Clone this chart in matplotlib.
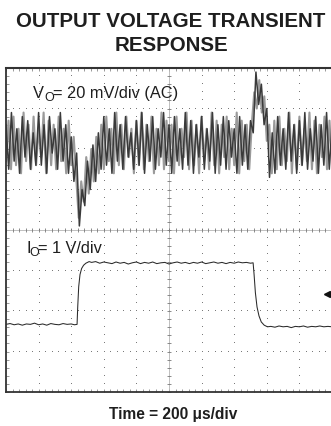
#import packages
import numpy as np
import matplotlib
matplotlib.use("Agg")
import matplotlib.pyplot as plt


#scope trace data (units = divisions, 10 x 8 grid)
#output voltage, dark persistence trace
vo_dark = [6.6, 5.5, 6.9, 5.7, 6.5, 5.4, 6.8, 5.8, 6.7, 5.5, 6.4, 5.6,
           6.9, 5.6, 6.6, 5.4, 6.8, 5.9, 6.5, 5.5, 6.9, 5.7, 6.6, 5.4,
           6.3, 5.2, 5.9, 4.1, 5.0, 4.6, 5.7, 5.0, 6.1, 5.2, 6.4, 5.5,
           6.8, 5.6, 6.5, 5.4, 6.9, 5.7, 6.6, 5.5, 6.8, 5.8, 6.4, 5.5,
           6.7, 5.6, 6.9, 5.4, 6.6, 5.7, 6.8, 5.5, 6.5, 5.8, 6.9, 5.6,
           6.6, 5.4, 6.8, 5.7, 6.5, 5.5, 6.9, 5.6, 6.7, 5.4, 6.6, 5.8,
           6.8, 5.5, 6.5, 5.7, 6.9, 5.4, 6.6, 5.6, 6.8, 5.5, 6.7, 5.8,
           6.5, 5.4, 6.8, 5.6, 6.6, 5.5, 6.7, 6.4, 7.9, 7.1, 7.6, 6.6,
           7.0, 5.3, 6.4, 5.4, 6.8, 5.6, 6.5, 5.5, 6.9, 5.7, 6.6, 5.4,
           6.7, 5.6, 6.9, 5.5, 6.5, 5.7, 6.8, 5.4, 6.6, 5.6, 6.9, 5.5,
           6.6]

#output voltage, light persistence trace
vo_light = [5.7, 6.7, 5.5, 6.8, 5.6, 6.5, 5.4, 6.9, 5.7, 6.6, 5.5, 6.8, 5.6,
            6.5, 5.8, 6.9, 5.4, 6.7, 5.6, 6.6, 5.5, 6.8, 5.7, 6.5, 5.4, 6.7,
            5.6, 6.3, 5.3, 4.3, 5.2, 4.7, 5.8, 4.9, 6.0, 5.2, 6.3, 5.4, 6.6,
            5.5, 6.8, 5.7, 6.5, 5.4, 6.9, 5.6, 6.6, 5.5, 6.8, 5.8, 6.5, 5.4,
            6.7, 5.6, 6.9, 5.5, 6.6, 5.7, 6.8, 5.4, 6.5, 5.6, 6.9, 5.5, 6.7,
            5.7, 6.6, 5.4, 6.8, 5.6, 6.5, 5.8, 6.9, 5.5, 6.7, 5.6, 6.6, 5.4,
            6.8, 5.7, 6.5, 5.5, 6.9, 5.6, 6.7, 5.4, 6.6, 5.8, 6.8, 5.5, 6.5,
            5.6, 6.9, 5.4, 6.7, 5.7, 6.6, 5.5, 6.6, 7.4, 7.0, 7.7, 6.9, 7.3,
            6.2, 6.6, 5.4, 6.7, 5.5, 6.8, 5.6, 6.5, 5.7, 6.9, 5.4, 6.6, 5.5,
            6.8, 5.6, 6.5, 5.7, 6.9, 5.5, 6.7, 5.4, 6.6, 5.8, 6.8, 5.5, 6.7,
            5.6]

#output current trace
io_t = [0, 0.125, 0.25, 0.375, 0.5, 0.625, 0.75, 0.875, 1.0, 1.125, 1.25, 1.375,
        1.5, 1.625, 1.75, 1.875, 2.0, 2.1, 2.18,
        2.2, 2.23, 2.27, 2.32, 2.38, 2.45, 2.55,
        2.625, 2.75, 2.875, 3.0, 3.125, 3.25, 3.375, 3.5, 3.625, 3.75, 3.875, 4.0,
        4.125, 4.25, 4.375, 4.5, 4.625, 4.75, 4.875, 5.0, 5.125, 5.25, 5.375, 5.5,
        5.625, 5.75, 5.875, 6.0, 6.125, 6.25, 6.375, 6.5, 6.625, 6.75, 6.875, 7.0,
        7.125, 7.25, 7.375, 7.5,
        7.58, 7.61, 7.65, 7.7, 7.76, 7.83, 7.92, 8.02,
        8.125, 8.25, 8.375, 8.5, 8.625, 8.75, 8.875, 9.0, 9.125, 9.25, 9.375, 9.5,
        9.625, 9.75, 9.875, 10.0]
io_v = [1.67, 1.69, 1.66, 1.68, 1.65, 1.68, 1.67, 1.70, 1.66, 1.68, 1.65, 1.69,
        1.67, 1.66, 1.69, 1.67, 1.68, 1.66, 1.67,
        2.1, 2.6, 2.9, 3.05, 3.13, 3.18, 3.22,
        3.2, 3.22, 3.18, 3.21, 3.19, 3.17, 3.21, 3.18, 3.2, 3.16, 3.19, 3.21,
        3.17, 3.2, 3.18, 3.21, 3.17, 3.19, 3.2, 3.16, 3.19, 3.21, 3.18, 3.2,
        3.17, 3.2, 3.18, 3.21, 3.17, 3.19, 3.21, 3.18, 3.2, 3.17, 3.2, 3.18,
        3.21, 3.19, 3.2, 3.18,
        3.19, 2.9, 2.45, 2.1, 1.88, 1.73, 1.65, 1.61,
        1.62, 1.60, 1.63, 1.61, 1.62, 1.59, 1.62, 1.61, 1.63, 1.60, 1.62, 1.61,
        1.63, 1.61, 1.62, 1.61]

#ground marker of the current channel
marker_t = [9.85]
marker_v = [2.42]


#figure, sized in pixels
W, H = 331, 427
fig = plt.figure(figsize=(W / 100, H / 100), dpi=100)
ax = fig.add_axes([6 / W, 34 / H, 326 / W, 324 / H])
ax.set_xlim(0, 10)
ax.set_ylim(0, 8)

#dotted graticule: one dot every fifth of a division
minor_x = np.arange(0, 10.001, 0.2)
minor_y = np.arange(0, 8.001, 0.2)
for gy in [1, 2, 3, 5, 6, 7]:
    ax.plot(minor_x, np.full(minor_x.size, gy), ",", color="#7a7a7a")
for gx in [1, 2, 3, 4, 6, 7, 8, 9]:
    ax.plot(np.full(minor_y.size, gx), minor_y, ",", color="#7a7a7a")

#centre cross with little ticks
ax.axhline(4, color="#b5b5b5", lw=0.6)
ax.axvline(5, color="#b5b5b5", lw=0.6)
ax.plot(minor_x, np.full(minor_x.size, 4), "|", color="#777777", ms=3.5, mew=0.6)
ax.plot(np.full(minor_y.size, 5), minor_y, "_", color="#777777", ms=3.5, mew=0.6)

#traces
t_dark = np.linspace(0, 10, len(vo_dark))
t_light = np.linspace(0, 10, len(vo_light))
ax.plot(t_light, vo_light, color="#9a9a9a", lw=1.5)
ax.plot(t_dark, vo_dark, color="#3a3a3a", lw=1.1)
ax.plot(io_t, io_v, color="#2a2a2a", lw=0.75)
ax.plot(marker_t, marker_v, "<", color="#111111", ms=4, clip_on=False)

#frame
ax.spines["right"].set_visible(False)
ax.spines["top"].set_linewidth(1.5)
ax.spines["left"].set_linewidth(1.3)
ax.spines["bottom"].set_linewidth(1.3)
for s in ["top", "left", "bottom"]:
    ax.spines[s].set_color("#333333")
ax.set_xticks(minor_x)
ax.set_yticks(minor_y)
ax.tick_params(axis="both", direction="in", length=2.2, width=0.6, color="#888888",
               labelbottom=False, labelleft=False, top=True, right=False)

#labels
txt = "#1e1e1e"
fig.text(171 / W, 1 - 27.3 / H, "OUTPUT VOLTAGE TRANSIENT", ha="center", va="baseline",
         fontsize=14.8, fontweight="bold", color=txt, family="Liberation Sans")
fig.text(171 / W, 1 - 50.7 / H, "RESPONSE", ha="center", va="baseline",
         fontsize=14.8, fontweight="bold", color=txt, family="Liberation Sans")

fig.text(33 / W, 1 - 98 / H, "V", ha="left", va="baseline", fontsize=11.8, color=txt, family="Liberation Sans")
fig.text(44 / W, 1 - 101 / H, "O", ha="left", va="baseline", fontsize=9, color=txt, family="Liberation Sans")
fig.text(53 / W, 1 - 98 / H, "= 20 mV/div (AC)", ha="left", va="baseline", fontsize=11.8, color=txt,
         family="Liberation Sans")

fig.text(26 / W, 1 - 253 / H, "I", ha="left", va="baseline", fontsize=11.8, color=txt, family="Liberation Sans")
fig.text(29.5 / W, 1 - 256 / H, "O", ha="left", va="baseline", fontsize=9, color=txt, family="Liberation Sans")
fig.text(38 / W, 1 - 253 / H, "= 1 V/div", ha="left", va="baseline", fontsize=11.8, color=txt,
         family="Liberation Sans")

fig.text(173 / W, 1 - 419 / H, "Time = 200 \u03bcs/div", ha="center", va="baseline",
         fontsize=11.2, fontweight="bold", color=txt, family="Liberation Sans")

#save
fig.savefig("out.png", dpi=100)
